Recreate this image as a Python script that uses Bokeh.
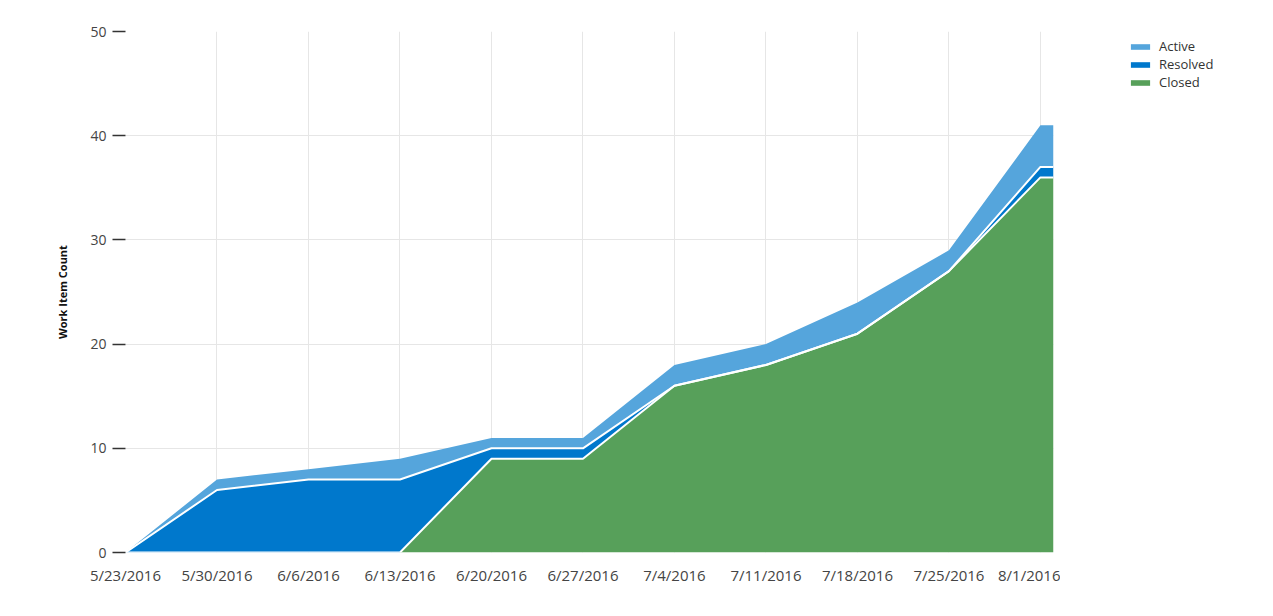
import pandas as pd
from bokeh.plotting import figure
from bokeh.layouts import row
from bokeh.models import ColumnDataSource, FixedTicker, Legend, LegendItem, Range1d
from bokeh.embed import file_html
from bokeh.resources import INLINE

# ---- data ----
dates = ["2016-05-23", "2016-05-30", "2016-06-06", "2016-06-13", "2016-06-20",
         "2016-06-27", "2016-07-04", "2016-07-11", "2016-07-18", "2016-07-25",
         "2016-08-01", "2016-08-02"]
closed = [0, 0, 0, 0, 9, 9, 16, 18, 21, 27, 36, 36]
resolved = [0, 6, 7, 7, 1, 1, 0, 0, 0, 0, 1, 1]
active = [0, 1, 1, 2, 1, 1, 2, 2, 3, 2, 4, 4]
series_names = ["Closed", "Resolved", "Active"]
series_colors = ["#57A05A", "#0078CC", "#55A5DC"]

tick_dates = dates[:11]
tick_labels = ["5/23/2016", "5/30/2016", "6/6/2016", "6/13/2016", "6/20/2016",
               "6/27/2016", "7/4/2016", "7/11/2016", "7/18/2016", "7/25/2016",
               "8/1/2016"]
y_ticks = [0, 10, 20, 30, 40, 50]
y_title = "Work Item Count"

# ---- build ----
x = pd.to_datetime(dates)
c1 = closed
c2 = [a + b for a, b in zip(closed, resolved)]
src = ColumnDataSource(dict(x=x, closed=closed, resolved=resolved, active=active,
                            c1=c1, c2=c2))

H = 598
W1 = 1060
W2 = 1257 - W1
p = figure(width=W1, height=H, output_backend="svg", toolbar_location=None,
           x_axis_type="datetime",
           x_range=Range1d(x[0], x[-1]), y_range=Range1d(0, 50),
           min_border_left=125, min_border_right=W1 - 1053, min_border_top=31,
           min_border_bottom=46)
p.outline_line_color = None
p.background_fill_color = "white"
p.border_fill_color = "white"

rends = p.varea_stack(stackers=["closed", "resolved", "active"], x="x",
                      color=series_colors, source=src)
p.line("x", "c1", source=src, line_color="white", line_width=2)
p.line("x", "c2", source=src, line_color="white", line_width=2)

tick_ms = [int(pd.Timestamp(d).value // 10**6) for d in tick_dates]
p.xaxis.ticker = FixedTicker(ticks=tick_ms)
p.xaxis.major_label_overrides = {t: l for t, l in zip(tick_ms, tick_labels)}
p.xaxis.axis_line_color = None
p.xaxis.major_tick_line_color = None
p.xaxis.minor_tick_line_color = None
p.xaxis.major_tick_out = 0
p.xaxis.major_label_standoff = 12
p.xaxis.major_label_text_font = "Open Sans"
p.xaxis.major_label_text_font_size = "15px"
p.xaxis.major_label_text_color = "#444444"

p.yaxis.ticker = FixedTicker(ticks=y_ticks)
p.yaxis.axis_line_color = None
p.yaxis.minor_tick_line_color = None
p.yaxis.major_tick_line_color = "#333333"
p.yaxis.major_tick_line_width = 1.5
p.yaxis.major_tick_out = 13
p.yaxis.major_tick_in = 0
p.yaxis.major_label_standoff = 6
p.yaxis.major_label_text_font = "Open Sans"
p.yaxis.major_label_text_font_size = "14px"
p.yaxis.major_label_text_color = "#444444"
p.yaxis.axis_label = y_title
p.yaxis.axis_label_text_font = "Open Sans"
p.yaxis.axis_label_text_font_style = "bold"
p.yaxis.axis_label_text_font_size = "11px"
p.yaxis.axis_label_text_color = "#111111"
p.yaxis.axis_label_standoff = 17

p.xgrid.ticker = FixedTicker(ticks=tick_ms)
p.ygrid.ticker = FixedTicker(ticks=y_ticks)
p.grid.grid_line_color = "#e6e6e6"
p.grid.grid_line_width = 1

# ---- legend panel (separate figure, same series, data outside its view) ----
q = figure(width=W2, height=H, output_backend="svg", toolbar_location=None,
           x_axis_location=None, y_axis_location=None,
           x_range=Range1d(0, 1), y_range=Range1d(1000, 1001),
           min_border=0)
q.grid.visible = False
q.outline_line_color = None
q.border_fill_color = "white"
q.background_fill_color = "white"
idx = list(range(len(dates)))
lsrc = ColumnDataSource(dict(i=idx, closed=closed, resolved=resolved, active=active))
lrends = q.varea_stack(stackers=["closed", "resolved", "active"], x="i",
                       color=series_colors, source=lsrc)
items = [LegendItem(label=series_names[i], renderers=[lrends[i]]) for i in (2, 1, 0)]
legend = Legend(items=items, location=(68, 461), orientation="vertical",
                padding=0, margin=0, spacing=-1,
                glyph_width=24, glyph_height=7, label_height=14,
                label_standoff=7,
                label_text_font="Open Sans", label_text_font_size="13px",
                label_text_color="#333333",
                background_fill_alpha=0, border_line_color=None)
q.add_layout(legend, "center")

layout = row(p, q, spacing=0)
open("out.html", "w").write(file_html(layout, INLINE))
